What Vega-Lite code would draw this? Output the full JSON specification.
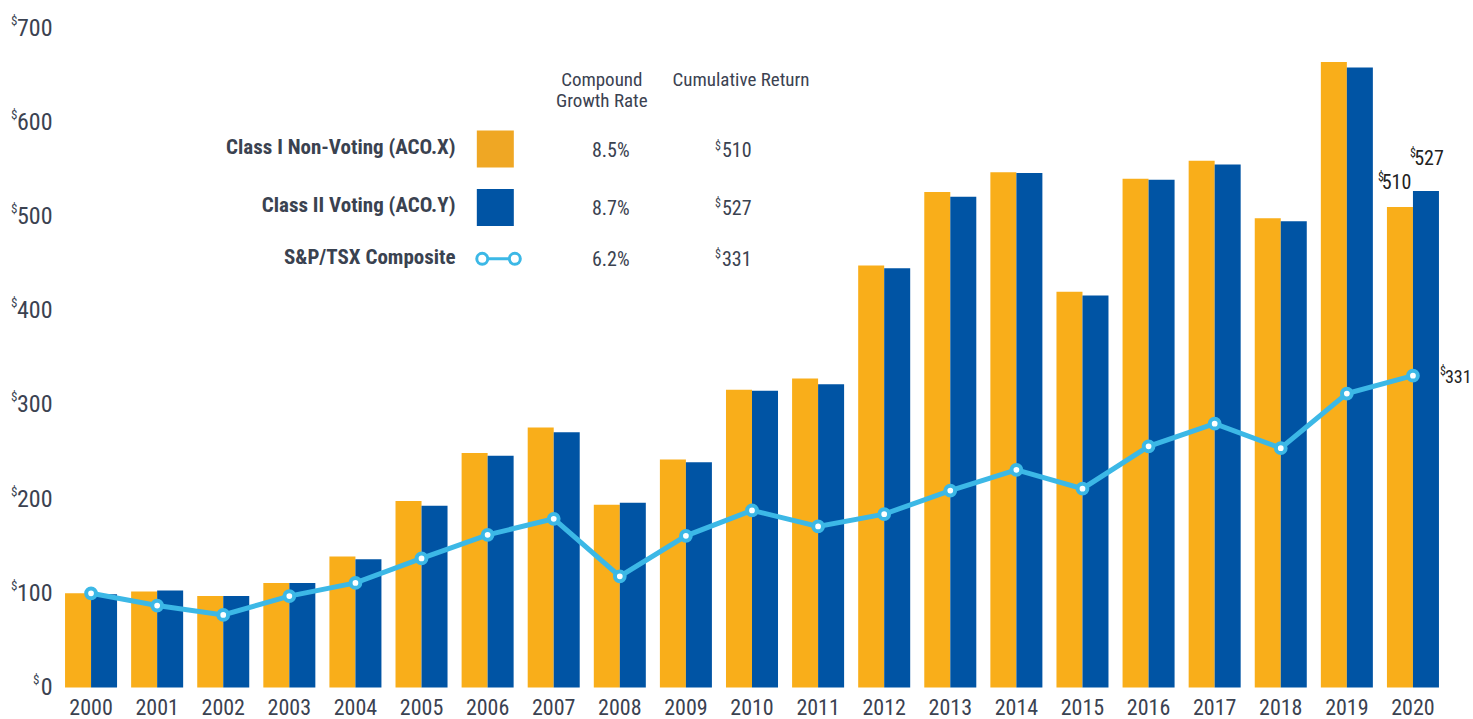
{
  "$schema": "https://vega.github.io/schema/vega-lite/v6.json",
  "width": 1388,
  "height": 659.5,
  "autosize": {"type": "none"},
  "padding": {"left": 58, "top": 28, "right": 27, "bottom": 31.5},
  "background": "white",
  "config": {
    "view": {"stroke": null},
    "font": "Liberation Sans Narrow, Roboto Condensed, DejaVu Sans Condensed, sans-serif",
    "text": {"font": "Liberation Sans Narrow, Roboto Condensed, DejaVu Sans Condensed, sans-serif"}
  },
  "datasets": {
    "returns": [
      {"year": "2000", "series": "Class I", "value": 100}, {"year": "2000", "series": "Class II", "value": 99},
      {"year": "2001", "series": "Class I", "value": 102}, {"year": "2001", "series": "Class II", "value": 103},
      {"year": "2002", "series": "Class I", "value": 97}, {"year": "2002", "series": "Class II", "value": 97},
      {"year": "2003", "series": "Class I", "value": 111}, {"year": "2003", "series": "Class II", "value": 111},
      {"year": "2004", "series": "Class I", "value": 139}, {"year": "2004", "series": "Class II", "value": 136},
      {"year": "2005", "series": "Class I", "value": 198}, {"year": "2005", "series": "Class II", "value": 193},
      {"year": "2006", "series": "Class I", "value": 249}, {"year": "2006", "series": "Class II", "value": 246},
      {"year": "2007", "series": "Class I", "value": 276}, {"year": "2007", "series": "Class II", "value": 271},
      {"year": "2008", "series": "Class I", "value": 194}, {"year": "2008", "series": "Class II", "value": 196},
      {"year": "2009", "series": "Class I", "value": 242}, {"year": "2009", "series": "Class II", "value": 239},
      {"year": "2010", "series": "Class I", "value": 316}, {"year": "2010", "series": "Class II", "value": 315},
      {"year": "2011", "series": "Class I", "value": 328}, {"year": "2011", "series": "Class II", "value": 322},
      {"year": "2012", "series": "Class I", "value": 448}, {"year": "2012", "series": "Class II", "value": 445},
      {"year": "2013", "series": "Class I", "value": 526}, {"year": "2013", "series": "Class II", "value": 521},
      {"year": "2014", "series": "Class I", "value": 547}, {"year": "2014", "series": "Class II", "value": 546},
      {"year": "2015", "series": "Class I", "value": 420}, {"year": "2015", "series": "Class II", "value": 416},
      {"year": "2016", "series": "Class I", "value": 540}, {"year": "2016", "series": "Class II", "value": 539},
      {"year": "2017", "series": "Class I", "value": 559}, {"year": "2017", "series": "Class II", "value": 555},
      {"year": "2018", "series": "Class I", "value": 498}, {"year": "2018", "series": "Class II", "value": 495},
      {"year": "2019", "series": "Class I", "value": 664}, {"year": "2019", "series": "Class II", "value": 658},
      {"year": "2020", "series": "Class I", "value": 510}, {"year": "2020", "series": "Class II", "value": 527}
    ],
    "tsx": [
      {"year": "2000", "value": 100}, {"year": "2001", "value": 87}, {"year": "2002", "value": 77},
      {"year": "2003", "value": 97}, {"year": "2004", "value": 111}, {"year": "2005", "value": 137},
      {"year": "2006", "value": 162}, {"year": "2007", "value": 179}, {"year": "2008", "value": 118},
      {"year": "2009", "value": 161}, {"year": "2010", "value": 188}, {"year": "2011", "value": 171},
      {"year": "2012", "value": 184}, {"year": "2013", "value": 209}, {"year": "2014", "value": 231},
      {"year": "2015", "value": 211}, {"year": "2016", "value": 256}, {"year": "2017", "value": 280},
      {"year": "2018", "value": 254}, {"year": "2019", "value": 312}, {"year": "2020", "value": 331}
    ],
    "legend": [
      {"key": "I", "name": "Class I Non-Voting (ACO.X)", "rate": "8.5%", "ret": "510"},
      {"key": "II", "name": "Class II Voting (ACO.Y)", "rate": "8.7%", "ret": "527"},
      {"key": "TSX", "name": "S&P/TSX Composite", "rate": "6.2%", "ret": "331"}
    ],
    "header": [{"h1": "Compound", "h2": "Growth Rate", "h3": "Cumulative Return"}]
  },
  "resolve": {"scale": {"y": "shared"}, "axis": {"y": "independent"}},
  "layer": [
    {
      "data": {"name": "returns"},
      "mark": {"type": "bar"},
      "encoding": {
        "x": {
          "field": "year", "type": "ordinal", "title": null,
          "scale": {"paddingInner": 0.213, "paddingOuter": 0.1065},
          "axis": {"labelAngle": 0, "ticks": false, "tickSize": 0, "domain": false, "labelFontSize": 22, "labelColor": "#3b4251", "labelPadding": 10, "labelBaseline": "top", "grid": false}
        },
        "xOffset": {"field": "series", "type": "nominal", "sort": ["Class I", "Class II"]},
        "y": {
          "field": "value", "type": "quantitative", "title": null,
          "scale": {"domain": [0, 700], "nice": false, "zero": true},
          "axis": {"orient": "left", "values": [0, 100, 200, 300, 400, 500, 600, 700], "format": "d", "grid": false, "domain": false, "ticks": false, "tickSize": 0, "labelFontSize": 24, "labelPadding": 6, "labelColor": "#3b4251", "labelBaseline": "middle", "labelOverlap": false}
        },
        "color": {"field": "series", "type": "nominal", "scale": {"domain": ["Class I", "Class II"], "range": ["#f9ae1a", "#0054a4"]}, "legend": null}
      }
    },
    {
      "data": {"name": "tsx"},
      "mark": {"type": "line", "color": "#3cb8e6", "strokeWidth": 5},
      "encoding": {
        "x": {"field": "year", "type": "ordinal"},
        "y": {
          "field": "value", "type": "quantitative", "title": null,
          "axis": {"orient": "left", "values": [100, 200, 300, 400, 500, 600, 700], "labelExpr": "'$'", "grid": false, "domain": false, "ticks": false, "tickSize": 0, "labelFontSize": 13, "labelPadding": 41, "labelOffset": -8, "labelColor": "#3b4251", "labelBaseline": "middle", "labelOverlap": false}
        }
      }
    },
    {
      "data": {"name": "tsx"},
      "mark": {"type": "circle", "fill": "white", "stroke": "#3cb8e6", "strokeWidth": 4, "size": 95, "opacity": 1},
      "encoding": {
        "x": {"field": "year", "type": "ordinal"},
        "y": {
          "field": "value", "type": "quantitative", "title": null,
          "axis": {"orient": "left", "values": [0], "labelExpr": "'$'", "grid": false, "domain": false, "ticks": false, "tickSize": 0, "labelFontSize": 13, "labelPadding": 19, "labelOffset": -8, "labelColor": "#3b4251", "labelBaseline": "middle", "labelOverlap": false}
        }
      }
    },
    {
      "data": {"name": "returns"},
      "transform": [{"filter": "datum.year == '2020' && datum.series == 'Class I'"}],
      "encoding": {
        "x": {"field": "year", "type": "ordinal"},
        "xOffset": {"field": "series", "type": "nominal", "sort": ["Class I", "Class II"]},
        "y": {"field": "value", "type": "quantitative", "axis": null}
      },
      "layer": [
        {"mark": {"type": "text", "align": "center", "baseline": "alphabetic", "dx": -3.5, "dy": -18, "fontSize": 20, "color": "#222222"}, "encoding": {"text": {"field": "value", "type": "quantitative", "format": "d"}}},
        {"mark": {"type": "text", "align": "right", "baseline": "alphabetic", "dx": -16, "dy": -26, "fontSize": 12, "color": "#222222", "text": "$"}}
      ]
    },
    {
      "data": {"name": "returns"},
      "transform": [{"filter": "datum.year == '2020' && datum.series == 'Class II'"}],
      "encoding": {
        "x": {"field": "year", "type": "ordinal"},
        "xOffset": {"field": "series", "type": "nominal", "sort": ["Class I", "Class II"]},
        "y": {"field": "value", "type": "quantitative", "axis": null}
      },
      "layer": [
        {"mark": {"type": "text", "align": "center", "baseline": "alphabetic", "dx": 3, "dy": -25.5, "fontSize": 20, "color": "#222222"}, "encoding": {"text": {"field": "value", "type": "quantitative", "format": "d"}}},
        {"mark": {"type": "text", "align": "right", "baseline": "alphabetic", "dx": -10, "dy": -34, "fontSize": 12, "color": "#222222", "text": "$"}}
      ]
    },
    {
      "data": {"name": "tsx"},
      "transform": [{"filter": "datum.year == '2020'"}],
      "encoding": {
        "x": {"field": "year", "type": "ordinal"},
        "y": {"field": "value", "type": "quantitative", "axis": null}
      },
      "layer": [
        {"mark": {"type": "text", "align": "left", "baseline": "alphabetic", "dx": 32, "dy": 7, "fontSize": 18, "color": "#222222"}, "encoding": {"text": {"field": "value", "type": "quantitative", "format": "d"}}},
        {"mark": {"type": "text", "align": "left", "baseline": "alphabetic", "dx": 27, "dy": -1, "fontSize": 12, "color": "#222222", "text": "$"}}
      ]
    },
    {
      "data": {"name": "header"},
      "layer": [
        {"mark": {"type": "text", "align": "center", "baseline": "middle", "dx": -18, "fontSize": 19, "color": "#3b4251"}, "encoding": {"x": {"datum": "2008", "type": "ordinal"}, "y": {"datum": 644.6, "type": "quantitative", "axis": null}, "text": {"field": "h1"}}},
        {"mark": {"type": "text", "align": "center", "baseline": "middle", "dx": -18, "fontSize": 19, "color": "#3b4251"}, "encoding": {"x": {"datum": "2008", "type": "ordinal"}, "y": {"datum": 622.5, "type": "quantitative", "axis": null}, "text": {"field": "h2"}}},
        {"mark": {"type": "text", "align": "center", "baseline": "middle", "dx": -11, "fontSize": 19, "color": "#3b4251"}, "encoding": {"x": {"datum": "2010", "type": "ordinal"}, "y": {"datum": 644.6, "type": "quantitative", "axis": null}, "text": {"field": "h3"}}}
      ]
    },
    {
      "data": {"name": "legend"},
      "transform": [{"filter": "datum.key == 'I'"}],
      "encoding": {"y": {"datum": 571.7, "type": "quantitative", "axis": null}},
      "layer": [
        {"mark": {"type": "text", "align": "right", "baseline": "middle", "dx": -32, "dy": -1, "fontSize": 21, "fontWeight": "bold", "color": "#3a4250"}, "encoding": {"x": {"datum": "2006", "type": "ordinal"}, "text": {"field": "name"}}},
        {"mark": {"type": "square", "size": 1369, "opacity": 1, "color": "#efa724"}, "encoding": {"x": {"datum": "2006", "type": "ordinal", "bandPosition": 0.648}}},
        {"mark": {"type": "text", "align": "center", "baseline": "middle", "dx": -9, "dy": 2.5, "fontSize": 20, "color": "#3a4250"}, "encoding": {"x": {"datum": "2008", "type": "ordinal"}, "text": {"field": "rate"}}},
        {"mark": {"type": "text", "align": "left", "baseline": "middle", "dx": -30, "dy": 2.5, "fontSize": 20, "color": "#3a4250"}, "encoding": {"x": {"datum": "2010", "type": "ordinal"}, "text": {"field": "ret"}}},
        {"mark": {"type": "text", "align": "right", "baseline": "middle", "dx": -31, "dy": -3, "fontSize": 12, "color": "#3a4250", "text": "$"}, "encoding": {"x": {"datum": "2010", "type": "ordinal"}}}
      ]
    },
    {
      "data": {"name": "legend"},
      "transform": [{"filter": "datum.key == 'II'"}],
      "encoding": {"y": {"datum": 509.6, "type": "quantitative", "axis": null}},
      "layer": [
        {"mark": {"type": "text", "align": "right", "baseline": "middle", "dx": -32, "dy": -1, "fontSize": 21, "fontWeight": "bold", "color": "#3a4250"}, "encoding": {"x": {"datum": "2006", "type": "ordinal"}, "text": {"field": "name"}}},
        {"mark": {"type": "square", "size": 1369, "opacity": 1, "color": "#0054a4"}, "encoding": {"x": {"datum": "2006", "type": "ordinal", "bandPosition": 0.648}}},
        {"mark": {"type": "text", "align": "center", "baseline": "middle", "dx": -9, "dy": 1.5, "fontSize": 20, "color": "#3a4250"}, "encoding": {"x": {"datum": "2008", "type": "ordinal"}, "text": {"field": "rate"}}},
        {"mark": {"type": "text", "align": "left", "baseline": "middle", "dx": -30, "dy": 1.5, "fontSize": 20, "color": "#3a4250"}, "encoding": {"x": {"datum": "2010", "type": "ordinal"}, "text": {"field": "ret"}}},
        {"mark": {"type": "text", "align": "right", "baseline": "middle", "dx": -31, "dy": -4, "fontSize": 12, "color": "#3a4250", "text": "$"}, "encoding": {"x": {"datum": "2010", "type": "ordinal"}}}
      ]
    },
    {
      "data": {"name": "legend"},
      "transform": [{"filter": "datum.key == 'TSX'"}],
      "encoding": {"y": {"datum": 455, "type": "quantitative", "axis": null}},
      "layer": [
        {"mark": {"type": "text", "align": "right", "baseline": "middle", "dx": -32, "dy": -1, "fontSize": 21, "fontWeight": "bold", "color": "#3a4250"}, "encoding": {"x": {"datum": "2006", "type": "ordinal"}, "text": {"field": "name"}}},
        {"mark": {"type": "point", "size": 1936, "opacity": 1, "filled": false, "fill": "white", "stroke": "#3cb8e6", "strokeWidth": 3, "shape": "M -0.49 0 A 0.25 0.25 0 1 1 -0.99 0 A 0.25 0.25 0 1 1 -0.49 0 Z M -0.49 0 L 0.49 0 M 0.99 0 A 0.25 0.25 0 1 1 0.49 0 A 0.25 0.25 0 1 1 0.99 0 Z"}, "encoding": {"x": {"datum": "2006", "type": "ordinal", "bandPosition": 0.71}}},
        {"mark": {"type": "text", "align": "center", "baseline": "middle", "dx": -9, "dy": 1, "fontSize": 20, "color": "#3a4250"}, "encoding": {"x": {"datum": "2008", "type": "ordinal"}, "text": {"field": "rate"}}},
        {"mark": {"type": "text", "align": "left", "baseline": "middle", "dx": -30, "dy": 1, "fontSize": 20, "color": "#3a4250"}, "encoding": {"x": {"datum": "2010", "type": "ordinal"}, "text": {"field": "ret"}}},
        {"mark": {"type": "text", "align": "right", "baseline": "middle", "dx": -31, "dy": -5, "fontSize": 12, "color": "#3a4250", "text": "$"}, "encoding": {"x": {"datum": "2010", "type": "ordinal"}}}
      ]
    }
  ]
}
